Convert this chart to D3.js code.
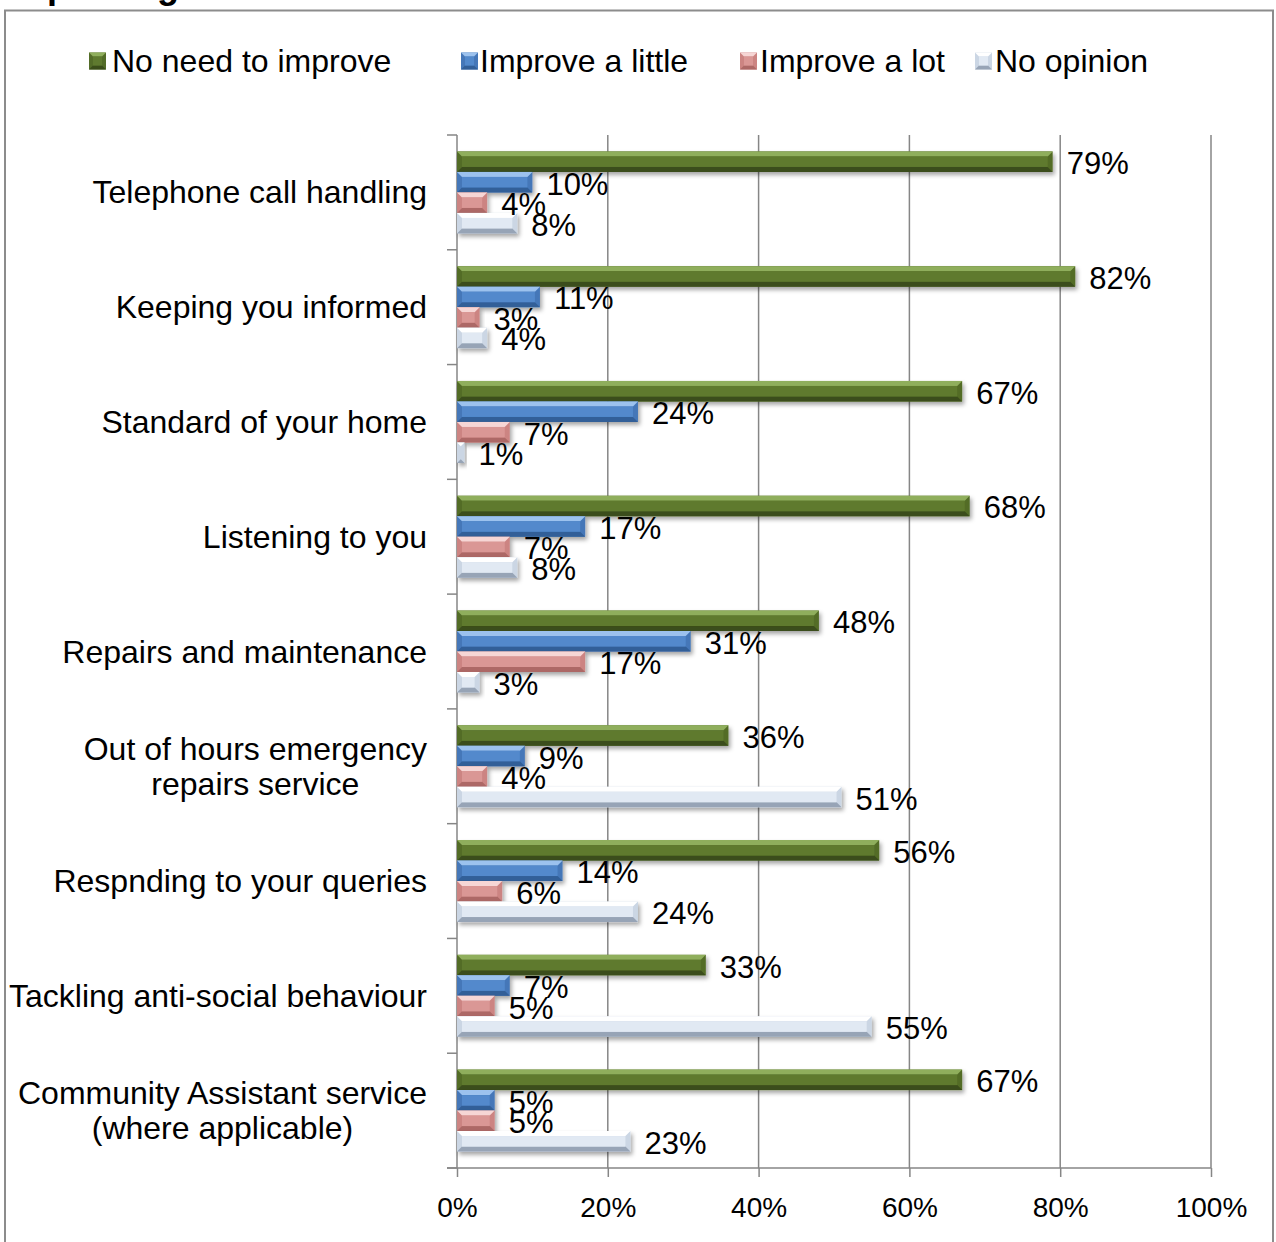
<!DOCTYPE html>
<html>
<head>
<meta charset="utf-8">
<script src="https://cdn.jsdelivr.net/npm/d3@7"></script>
<style>
  html, body { margin: 0; padding: 0; background: #fff; }
  svg { display: block; font-family: "Liberation Sans", Arial, sans-serif; }
</style>
</head>
<body>
<svg id="chart" width="1276" height="1242"></svg>
<script>
// Survey: how much each service needs to improve (share of respondents)
const categories = [
  "Telephone call handling",
  "Keeping you informed",
  "Standard of your home",
  "Listening to you",
  "Repairs and maintenance",
  "Out of hours emergency\nrepairs service",
  "Respnding to your queries",
  "Tackling anti-social behaviour",
  "Community Assistant service\n(where applicable)"
];
const seriesNames = ["No need to improve", "Improve a little", "Improve a lot", "No opinion"];
const noNeed        = [79, 82, 67, 68, 48, 36, 56, 33, 67];
const improveLittle = [10, 11, 24, 17, 31,  9, 14,  7,  5];
const improveLot    = [ 4,  3,  7,  7, 17,  4,  6,  5,  5];
const noOpinion     = [ 8,  4,  1,  8,  3, 51, 24, 55, 23];
const tickValues = [0, 20, 40, 60, 80, 100];

const seriesValues = [noNeed, improveLittle, improveLot, noOpinion];

// bevel palettes: top facet, face, side facets, bottom facet
const palettes = [
  { top: "#8fae5c", face: "#5f7a2f", side: "#536c28", bottom: "#3b4e1a" },
  { top: "#9cc2ee", face: "#5289cc", side: "#4577b8", bottom: "#325f98" },
  { top: "#f6d6d5", face: "#da9795", side: "#cc8482", bottom: "#ad6866" },
  { top: "#ffffff", face: "#e1e9f3", side: "#cbd6e4", bottom: "#97a4b6" }
];

const svg = d3.select("#chart");
const defs = svg.append("defs");
const shadow = defs.append("filter").attr("id", "shadow")
  .attr("x", "-10%").attr("y", "-30%").attr("width", "130%").attr("height", "180%");
shadow.append("feDropShadow").attr("dx", 2).attr("dy", 3).attr("stdDeviation", 2)
  .attr("flood-color", "#000").attr("flood-opacity", 0.35);

// outer frame
svg.append("rect").attr("x", 5).attr("y", 10.5).attr("width", 1268).attr("height", 1260)
  .attr("fill", "none").attr("stroke", "#8c8c8c").attr("stroke-width", 2);

// clipped title line above the frame
svg.append("text").attr("x", 5).attr("y", -2)
  .attr("font-size", 36).attr("font-weight", "bold").attr("fill", "#000")
  .text("Improving services");

const plotLeft = 457, plotRight = 1211, plotTop = 135, plotBottom = 1168;
const x = d3.scaleLinear().domain([0, 100]).range([plotLeft, plotRight]);
const y = d3.scaleBand().domain(d3.range(categories.length)).range([plotTop, plotBottom]);
const sub = d3.scaleBand().domain(d3.range(seriesNames.length))
  .range([0, y.bandwidth()]).paddingOuter(0.8).paddingInner(0);

const grid = "#868686";

// vertical gridlines
svg.append("g").selectAll("line").data(tickValues.filter(t => t > 0)).join("line")
  .attr("x1", d => x(d)).attr("x2", d => x(d))
  .attr("y1", plotTop).attr("y2", plotBottom)
  .attr("stroke", grid).attr("stroke-width", 1.5);

// bottom axis
const xAxis = d3.axisBottom(x).tickValues(tickValues).tickSize(9).tickSizeOuter(0)
  .tickFormat(d => d + "%");
const gx = svg.append("g").attr("transform", `translate(0,${plotBottom})`).call(xAxis);
gx.select(".domain").remove();
gx.selectAll(".tick line").attr("stroke", grid).attr("stroke-width", 1.5);
gx.selectAll(".tick text").attr("font-size", 28).attr("fill", "#000")
  .attr("font-family", "Liberation Sans, Arial, sans-serif").attr("dy", 0).attr("y", 49);
svg.append("line").attr("x1", plotLeft - 10).attr("x2", plotRight)
  .attr("y1", plotBottom).attr("y2", plotBottom).attr("stroke", grid).attr("stroke-width", 1.5);

// left axis with ticks at category boundaries
const bounds = d3.range(categories.length + 1).map(i => plotTop + i * y.step());
svg.append("line").attr("x1", plotLeft).attr("x2", plotLeft)
  .attr("y1", plotTop).attr("y2", plotBottom).attr("stroke", grid).attr("stroke-width", 1.5);
svg.append("g").selectAll("line").data(bounds).join("line")
  .attr("x1", plotLeft - 10).attr("x2", plotLeft)
  .attr("y1", d => d).attr("y2", d => d)
  .attr("stroke", grid).attr("stroke-width", 1.5);

// category labels (multi-line labels are centred as a block, block right-aligned)
const labelRight = 427, lineH = 35;
categories.forEach((c, i) => {
  const lines = c.split("\n");
  const cy = y(i) + y.bandwidth() / 2;
  const t = svg.append("text").attr("font-size", 32).attr("fill", "#000");
  lines.forEach((ln, k) => {
    t.append("tspan").attr("y", cy + (k - (lines.length - 1) / 2) * lineH)
      .attr("dominant-baseline", "central").text(ln);
  });
  if (lines.length === 1) {
    t.attr("text-anchor", "end").selectAll("tspan").attr("x", labelRight);
  } else {
    t.attr("text-anchor", "start").selectAll("tspan").attr("x", 0);
    const w = d3.max(t.selectAll("tspan").nodes(), n => n.getComputedTextLength());
    t.attr("text-anchor", "middle").selectAll("tspan").attr("x", labelRight - w / 2);
  }
});

// bevelled bar
function bevelBar(g, x0, y0, w, h, p) {
  const b = Math.min(5, w / 2, h / 2);
  const x1 = x0 + w, y1 = y0 + h;
  const grp = g.append("g").attr("filter", "url(#shadow)");
  grp.append("rect").attr("x", x0).attr("y", y0).attr("width", w).attr("height", h).attr("fill", p.side);
  grp.append("polygon").attr("points", [[x0, y0], [x1, y0], [x1 - b, y0 + b], [x0 + b, y0 + b]].join(" ")).attr("fill", p.top);
  grp.append("polygon").attr("points", [[x0, y1], [x1, y1], [x1 - b, y1 - b], [x0 + b, y1 - b]].join(" ")).attr("fill", p.bottom);
  if (w - 2 * b > 0) {
    grp.append("rect").attr("x", x0 + b).attr("y", y0 + b).attr("width", w - 2 * b).attr("height", h - 2 * b).attr("fill", p.face);
  }
}

const barsG = svg.append("g");
const labelsG = svg.append("g");
categories.forEach((c, i) => {
  seriesValues.forEach((vals, s) => {
    const v = vals[i];
    const y0 = y(i) + sub(s);
    const h = sub.bandwidth();
    bevelBar(barsG, x(0), y0, x(v) - x(0), h, palettes[s]);
    labelsG.append("text")
      .attr("x", x(v) + 14).attr("y", y0 + h / 2 + 2)
      .attr("dominant-baseline", "central")
      .attr("font-size", 31).attr("fill", "#000")
      .text(v + "%");
  });
});

// legend
const legendItems = [
  { mark: 89, text: 112 },
  { mark: 461, text: 480 },
  { mark: 740, text: 760 },
  { mark: 975, text: 995 }
];
const legendY = 61;
seriesNames.forEach((name, s) => {
  const it = legendItems[s];
  const p = palettes[s];
  const sz = 17, x0 = it.mark, y0 = legendY - sz / 2, b = 4;
  const g = svg.append("g");
  g.append("rect").attr("x", x0).attr("y", y0).attr("width", sz).attr("height", sz).attr("fill", p.side);
  g.append("polygon").attr("points", [[x0, y0], [x0 + sz, y0], [x0 + sz - b, y0 + b], [x0 + b, y0 + b]].join(" ")).attr("fill", p.top);
  g.append("polygon").attr("points", [[x0, y0 + sz], [x0 + sz, y0 + sz], [x0 + sz - b, y0 + sz - b], [x0 + b, y0 + sz - b]].join(" ")).attr("fill", p.bottom);
  g.append("rect").attr("x", x0 + b).attr("y", y0 + b).attr("width", sz - 2 * b).attr("height", sz - 2 * b).attr("fill", p.face);
  svg.append("text").attr("x", it.text).attr("y", legendY)
    .attr("dominant-baseline", "central").attr("font-size", 32).attr("fill", "#000").text(name);
});
</script>
</body>
</html>
